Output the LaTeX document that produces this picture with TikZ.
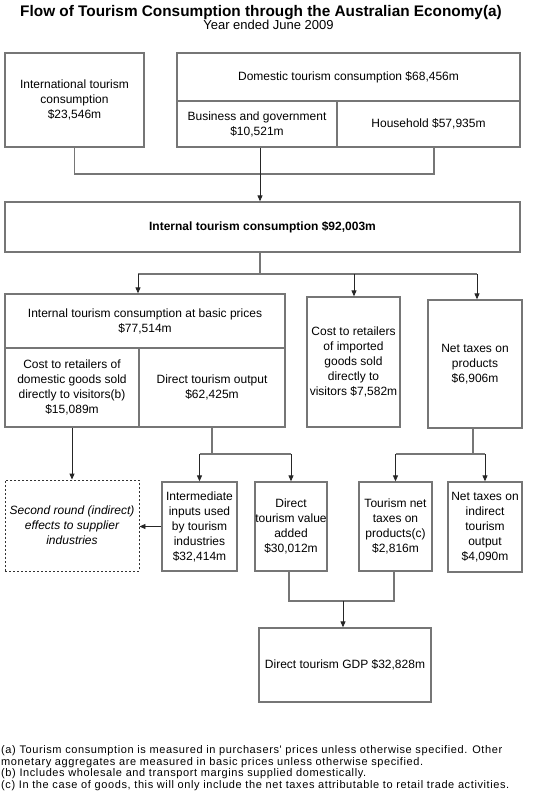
\documentclass[tikz,border=0pt]{standalone}
\usepackage{fontspec}
\setmainfont{Liberation Sans}
\newfontfamily\footfont[LetterSpace=5.5]{Liberation Sans}
\usetikzlibrary{arrows.meta,calc}
\definecolor{boxgray}{RGB}{118,118,118}
\begin{document}
\begin{tikzpicture}[x=1pt,y=-1pt,
  box/.style={draw=boxgray,line width=1.3pt,rectangle,inner sep=0pt,align=center,
    font=\fontsize{12}{15}\selectfont},
  dashbox/.style={box,draw=black!80,line width=0.9pt,dash pattern=on 2pt off 2pt,font=\fontsize{12}{15}\selectfont\itshape},
  linkline/.style={draw=boxgray,line width=1.2pt},
  arr/.style={draw=black!85,line width=0.9pt,-{Triangle[width=5pt,length=6pt]}},
  foot/.style={anchor=base west,inner sep=0pt,font=\footfont\fontsize{11}{11.7}\selectfont}]
\useasboundingbox[fill=white] (0,0) rectangle (537,800);

% title
\node[anchor=base,inner sep=0pt,font=\fontsize{15.35}{17}\bfseries] (title) at (261,17) {Flow of Tourism Consumption through the Australian Economy(a)};
\node[anchor=base,inner sep=0pt,font=\fontsize{13}{14}\selectfont] (subtitle) at (268.5,30) {Year ended June 2009};

% top row
\node[box,minimum width=139,minimum height=94] (intl) at (74.5,100) {International tourism\\consumption\\\$23,546m};
\node[box,minimum width=343,minimum height=48] (dom) at (348.5,77) {Domestic tourism consumption \$68,456m};
\node[box,minimum width=160,minimum height=46] (bus) at (257,124) {Business and government\\\$10,521m};
\node[box,minimum width=183,minimum height=46] (hh) at (428.5,124) {Household \$57,935m};

% internal
\node[box,minimum width=515,minimum height=50,font=\fontsize{12}{15}\bfseries] (internal) at (262.5,227) {Internal tourism consumption \$92,003m};

% second row
\node[box,minimum width=280,minimum height=54] (basic) at (145,321) {Internal tourism consumption at basic prices\\\$77,514m};
\node[box,minimum width=134,minimum height=79] (costdom) at (72,387.5) {Cost to retailers of\\domestic goods sold\\directly to visitors(b)\\\$15,089m};
\node[box,minimum width=146,minimum height=79] (dto) at (212,387.5) {Direct tourism output\\\$62,425m};
\node[box,minimum width=93,minimum height=130] (imported) at (353.5,362) {Cost to retailers\\of imported\\goods sold\\directly to\\visitors \$7,582m};
\node[box,minimum width=94,minimum height=128] (nettax) at (475,364) {Net taxes on\\products\\\$6,906m};

% third row
\node[dashbox,minimum width=134,minimum height=91] (second) at (72,525.5) {Second round (indirect)\\effects to supplier\\industries};
\node[box,minimum width=75,minimum height=89] (inter) at (199.5,526.5) {Intermediate\\inputs used\\by tourism\\industries\\\$32,414m};
\node[box,minimum width=72,minimum height=89] (dva) at (291,526.5) {Direct\\tourism value\\added\\\$30,012m};
\node[box,minimum width=73,minimum height=89] (tnt) at (395.5,526.5) {Tourism net\\taxes on\\products(c)\\\$2,816m};
\node[box,minimum width=74,minimum height=90] (nti) at (485,527) {Net taxes on\\indirect\\tourism\\output\\\$4,090m};

% GDP
\node[box,minimum width=172,minimum height=74] (gdp) at (345,665) {Direct tourism GDP \$32,828m};

% connectors: top row to internal
\coordinate (j1) at (74.5,174);
\coordinate (j2) at (434,174);
\draw[linkline] (intl.south) -- (j1) -- (j2) -- (hh.south -| j2);
\draw[arr] ([xshift=3pt]bus.south) -- ([xshift=3pt]bus.south |- internal.north);

% internal to second row
\coordinate (k0) at (260,274);
\coordinate (k1) at (138,274);
\coordinate (k2) at (354,274);
\coordinate (k3) at (477,274);
\draw[linkline] (internal.south -| k0) -- (k0);
\draw[linkline] (k1) -- (k3);
\draw[arr] (k1) -- (k1 |- basic.north);
\draw[arr] (k2) -- (k2 |- imported.north);
\draw[arr] (k3) -- (k3 |- nettax.north);

% cost to retailers -> second round
\draw[arr] (costdom.south) -- (second.north);

% direct tourism output -> inter, dva
\coordinate (d0) at (212,454);
\draw[linkline] (dto.south) -- (d0);
\draw[linkline] (d0 -| inter.north) -- (d0 -| dva.north);
\draw[arr] (d0 -| inter.north) -- (inter.north);
\draw[arr] (d0 -| dva.north) -- (dva.north);

% net taxes -> tnt, nti
\coordinate (n0) at (473,454);
\draw[linkline] (nettax.south -| n0) -- (n0);
\draw[linkline] (n0 -| tnt.north) -- (n0 -| nti.north);
\draw[arr] (n0 -| tnt.north) -- (tnt.north);
\draw[arr] (n0 -| nti.north) -- (nti.north);

% inter -> second round
\draw[arr] (inter.west) -- (inter.west -| second.east);

% dva, tnt -> gdp
\coordinate (g1) at (289,601);
\coordinate (g2) at (394,601);
\coordinate (g0) at (343,601);
\draw[linkline] (dva.south -| g1) -- (g1) -- (g2) -- (tnt.south -| g2);
\draw[arr] (g0) -- (g0 |- gdp.north);

% footnotes
\node[foot] (fa1) at (1,753) {(a) Tourism consumption is measured in purchasers' prices unless otherwise specified. Other};
\node[foot] (fa2) at (1,765) {monetary aggregates are measured in basic prices unless otherwise specified.};
\node[foot] (fb) at (1,776.5) {(b) Includes wholesale and transport margins supplied domestically.};
\node[foot] (fc) at (1,788) {(c) In the case of goods, this will only include the net taxes attributable to retail trade activities.};
\end{tikzpicture}
\end{document}
